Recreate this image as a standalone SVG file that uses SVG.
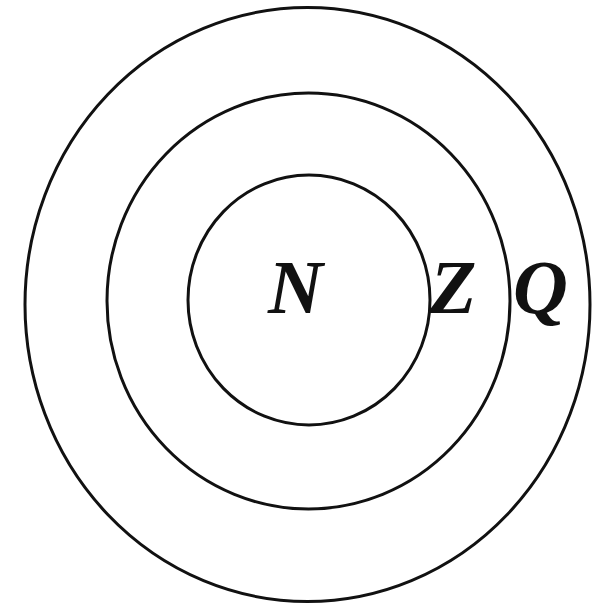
<svg xmlns="http://www.w3.org/2000/svg" width="599" height="607" viewBox="0 0 599 607">
<style>
.ring{fill:none;stroke:#111;stroke-width:3}
.lbl{font-family:"Liberation Serif","Times New Roman",serif;font-weight:bold;font-style:italic;font-size:76px;fill:#111}
</style>
<rect width="599" height="607" fill="#fff"/>
<g id="ring-Q"><ellipse class="ring" cx="307.5" cy="304.5" rx="282.5" ry="297"/></g>
<g id="ring-Z"><ellipse class="ring" cx="308.5" cy="301" rx="201.5" ry="208"/></g>
<g id="ring-N"><ellipse class="ring" cx="309" cy="300" rx="121" ry="125"/></g>
<g id="labels">
<text class="lbl" x="268" y="313">N</text>
<text class="lbl" x="430" y="313">Z</text>
<text class="lbl" x="513" y="313">Q</text>
</g>
</svg>
